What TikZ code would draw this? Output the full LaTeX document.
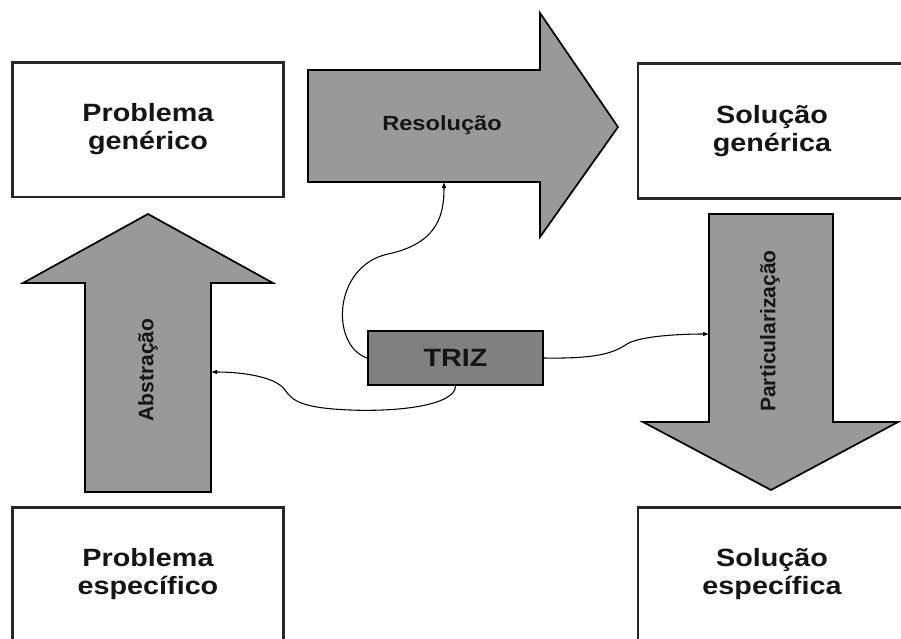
\documentclass[tikz,border=0pt]{standalone}
\usepackage{fontspec}
\setmainfont[FakeStretch=1.15]{Liberation Sans}
\newfontfamily\plainarial{Liberation Sans}
\usetikzlibrary{arrows.meta}
\definecolor{arrowgray}{HTML}{999999}
\definecolor{trizgray}{HTML}{808080}
\definecolor{ink}{HTML}{151515}
\begin{document}
\begin{tikzpicture}[x=0.75pt,y=-0.75pt,
  box/.style={draw=black!85, line width=2pt, fill=white, text=ink,
    align=center, font=\bfseries\fontsize{18.75}{21}\selectfont,
    minimum width=203pt, minimum height=101pt, inner sep=0pt},
  bigarrow/.style={draw=black, line width=1.3pt, fill=arrowgray, line join=miter},
  arrlabel/.style={text=ink, font=\plainarial\bfseries\fontsize{15.8}{18}\selectfont, inner sep=0pt},
  link/.style={draw=black, line width=0.8pt, -{Latex[length=4.5pt,width=3.5pt]}}]
\useasboundingbox (0,0) rectangle (901,639);
\clip (0,0) rectangle (901,639);
\fill[white] (0,0) rectangle (901,639);

% boxes
\node[box] (pg) at (148,129.5) {Problema\\genérico};
\node[box, minimum width=201pt] (sg) at (772,131) {Solução\\genérica};
\node[box] (pe) at (148,574.5) {Problema\\específico};
\node[box, minimum width=201pt] (se) at (772,574.5) {Solução\\específica};

% block arrows
\path[bigarrow] (308,70) -- (540,70) -- (540,13) -- (618,127) -- (540,237) -- (540,182) -- (308,182) -- cycle;
\path[bigarrow] (85,492) -- (85,283) -- (23,283) -- (148,214) -- (273,283) -- (211,283) -- (211,492) -- cycle;
\path[bigarrow] (709,214) -- (833,214) -- (833,422) -- (898,422) -- (771,490) -- (643,422) -- (709,422) -- cycle;

\node[text=ink, font=\bfseries\fontsize{15.4}{18}\selectfont, inner sep=0pt] (res) at (442,125) {Resolução};
\node[arrlabel, rotate=90] (abs) at (148,370) {Abstração};
\node[arrlabel, rotate=90] (par) at (770,331) {Particularização};

% TRIZ
\node[draw=black, line width=1.8pt, fill=trizgray, text=ink,
  minimum width=131pt, minimum height=40.5pt, inner sep=0pt,
  font=\bfseries\fontsize{18.75}{21}\selectfont] (triz) at (455.5,358) {TRIZ};

\coordinate (resIn) at (444,182);
\coordinate (absIn) at (211,372);
\coordinate (parIn) at (709,334);

\draw[link] (triz.west) .. controls (330,345) and (333,266) .. (388,254)
  .. controls (440,243) and (444,212) .. (resIn);
\draw[link] (triz.south) .. controls (455,405) and (400,412) .. (350,410)
  .. controls (300,408) and (292,400) .. (285,390)
  .. controls (275,376) and (240,372) .. (absIn);
\draw[link] (triz.east) .. controls (600,359) and (615,352) .. (627,344)
  .. controls (640,336) and (680,334) .. (parIn);
\end{tikzpicture}
\end{document}
